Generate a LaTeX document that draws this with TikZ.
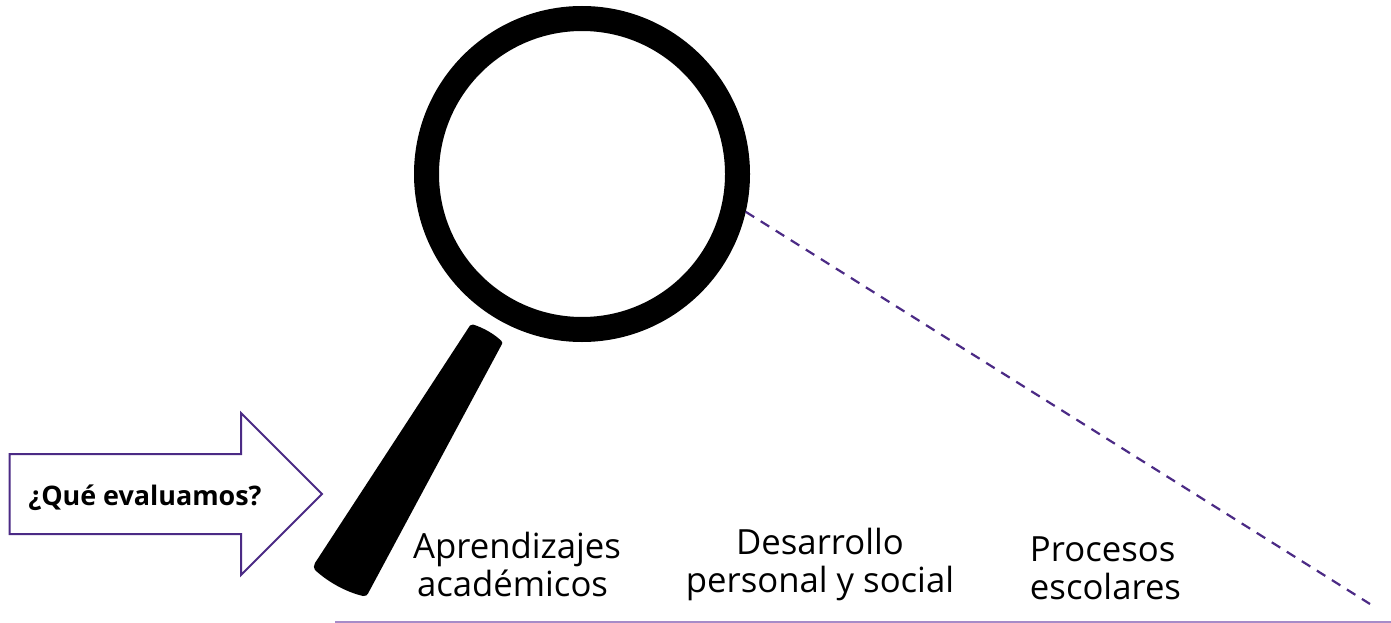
\documentclass[tikz,border=0pt]{standalone}
\usepackage{fontspec}
\setmainfont{Open Sans}
\definecolor{deep}{HTML}{4B2A85}
\definecolor{soft}{HTML}{A78BC8}
\tikzset{
  lensring/.style={circle,draw=black,line width=25pt,minimum size=311pt,inner sep=0pt},
  handleshape/.style={fill=black,draw=none},
  pointer/.style={draw=deep,line width=2pt,fill=white,line join=miter},
  sightline/.style={draw=deep,line width=2.2pt,dash pattern=on 10pt off 7.75pt},
  baseline rule/.style={draw=soft,line width=1.2pt},
  topic/.style={align=center,font=\fontsize{34.7}{38}\selectfont,inner sep=0pt,text=black}
}
\begin{document}
\begin{tikzpicture}[x=1pt,y=-1pt]
\useasboundingbox (0,0) rectangle (1391,623);
\node[lensring] (lens) at (582,174) {};
\fill[handleshape] (473,324.5) .. controls (484,328) and (494,334) .. (501,340.5)
  .. controls (502.5,342) and (502.5,343) .. (502,344)
  -- (368,593.5) .. controls (367,595.5) and (366,596) .. (363,596)
  .. controls (346,592) and (328,582) .. (315,570)
  .. controls (313.5,568) and (313.5,566) .. (315,563)
  -- (470,325.5) .. controls (471,324.5) and (472,324.2) .. (473,324.5) -- cycle;
\draw[pointer] (9.5,454) -- (241,454) -- (241,413) -- (322,494) -- (241,575) -- (241,534) -- (9.5,534) -- cycle;
\node[font=\fontsize{26.9}{30}\selectfont\bfseries,inner sep=0pt] (ask) at (145,497.5) {¿Qué evaluamos?};
\coordinate (sightend) at (1370,604);
\draw[sightline] (lens.-13) -- (sightend);
\coordinate (ruleL) at (335,622);
\coordinate (ruleR) at (1391,622);
\draw[baseline rule] (ruleL) -- (ruleR);
\node[topic,align=left] (t1) at (517,564) {Aprendizajes\\\hspace*{4pt}académicos};
\node[topic] (t2) at (820,564.5) {Desarrollo\\personal y social};
\node[topic,align=left] (t3) at (1105.5,568) {Procesos\\escolares};
\end{tikzpicture}
\end{document}
